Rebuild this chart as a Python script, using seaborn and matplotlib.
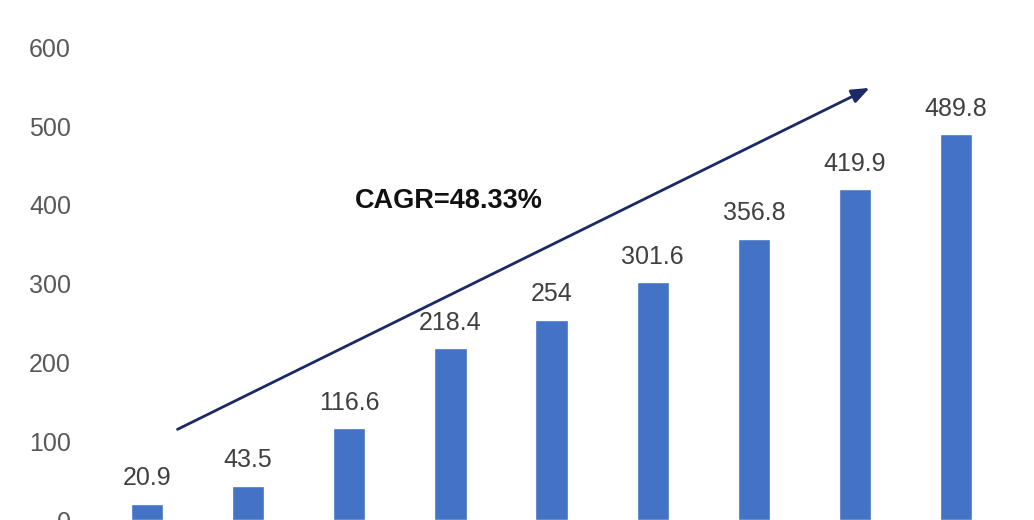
import matplotlib
matplotlib.use("Agg")
import matplotlib.pyplot as plt
import seaborn as sns
import pandas as pd

categories = ["2015", "2016", "2017", "2018", "2019", "2020", "2021", "2022", "2023"]
values = [20.9, 43.5, 116.6, 218.4, 254, 301.6, 356.8, 419.9, 489.8]
value_labels = ["20.9", "43.5", "116.6", "218.4", "254", "301.6", "356.8", "419.9", "489.8"]
yticks = [0, 100, 200, 300, 400, 500, 600]
cagr_text = "CAGR=48.33%"

sns.set_theme(style="white")
plt.rcParams['font.family'] = ['Liberation Sans', 'DejaVu Sans']

df = pd.DataFrame({"cat": categories, "val": values})

fig = plt.figure(figsize=(10.34, 5.2), dpi=100)
ax = fig.add_axes([85/1034, 0, 949/1034, 1])

sns.barplot(data=df, x="cat", y="val", color="#4472C4", width=0.32, ax=ax, saturation=1)

for i, (v, lab) in enumerate(zip(values, value_labels)):
    ax.text(i, v + 17, lab, ha="center", va="bottom", fontsize=18, color="#404040")

ax.set_xlim(-0.613, 8.77)
ax.set_ylim(5, 660)
ax.set_yticks(yticks)
ax.set_yticklabels([str(t) for t in yticks], fontsize=18, color="#595959")
ax.tick_params(axis="y", length=0, pad=10)
ax.set_xticks([])
ax.set_xlabel("")
ax.set_ylabel("")
for s in ax.spines.values():
    s.set_visible(False)

ax.annotate("", xy=(7.17, 550), xytext=(0.277, 113.5),
            arrowprops=dict(arrowstyle="-|>,head_length=0.9,head_width=0.35",
                            color="#1B2A66", lw=2))
ax.text(2.06, 405, cagr_text, ha="left", va="center", fontsize=19.5,
        fontweight="bold", color="#111111")

fig.savefig("out.png", dpi=100)
